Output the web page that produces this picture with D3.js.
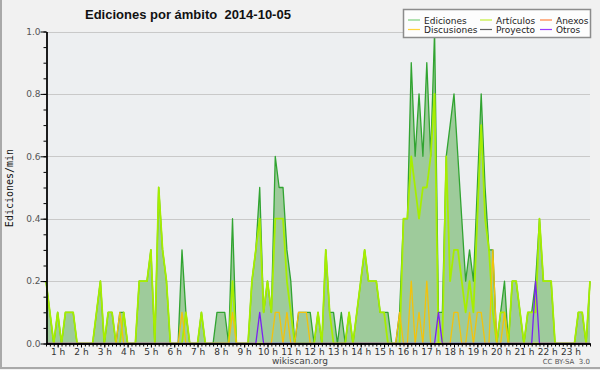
<!DOCTYPE html>
<html>
<head>
<meta charset="utf-8">
<script src="https://cdn.jsdelivr.net/npm/d3@7"></script>
<style>
  body { margin: 0; background: #f1f1f1; }
  svg { display: block; font-family: "DejaVu Sans", sans-serif; }
</style>
</head>
<body>
<svg id="chart" width="600" height="370"></svg>
<script>
// sample grid: one value every 10 minutes, minutes since midnight (00:30 .. 23:50)
const times = d3.range(30, 1431, 10);

// edits per minute, by namespace
const ediciones = [
  0.2,0.1,0,0.1,0,0.1,0.1,0.1,0,0,0,0,
  0,0.1,0.2,0,0.1,0.1,0,0.1,0.1,0,0,0,
  0.2,0.2,0.2,0.3,0,0.5,0.3,0.2,0,0,0,0.3,
  0.1,0,0,0,0.1,0,0,0,0.1,0.1,0.1,0,
  0.4,0,0,0,0,0.2,0.3,0.5,0.1,0.2,0.1,0.6,
  0.5,0.5,0.3,0.2,0,0.1,0.1,0.1,0.1,0,0.1,0,
  0.3,0.1,0.1,0,0.1,0,0.1,0,0.1,0.2,0.3,0.2,
  0.2,0.2,0.1,0.1,0.1,0,0,0.1,0.4,0.4,0.9,0.6,
  0.8,0.6,0.9,0.6,1.0,0.1,0.1,0.6,0.7,0.8,0.6,0.4,
  0.2,0.3,0.2,0.5,0.8,0.5,0.3,0.3,0,0.1,0.2,0,
  0.2,0.2,0.1,0,0.1,0.1,0.2,0.4,0.2,0.2,0.2,0,
  0,0,0,0,0,0.1,0.1,0,0.2
];
const articulos = [
  0.2,0.1,0,0.1,0,0.1,0.1,0.1,0,0,0,0,
  0,0.1,0.2,0,0.1,0.1,0,0,0.1,0,0,0,
  0.2,0.2,0.2,0.3,0,0.5,0.3,0.2,0,0,0,0,
  0.1,0,0,0,0.1,0,0,0,0,0,0,0,
  0.2,0,0,0,0,0.2,0.3,0.4,0.1,0.2,0.1,0.4,
  0.4,0.4,0.2,0.1,0,0,0,0,0,0,0.1,0,
  0.3,0.1,0,0,0,0,0.1,0,0.1,0.2,0.3,0.2,
  0.2,0.2,0.1,0.1,0,0,0,0,0.4,0.4,0.6,0.5,
  0.4,0.5,0.5,0.6,0.8,0,0,0.6,0.2,0.3,0.3,0.2,
  0.1,0.2,0.1,0.4,0.7,0.4,0.3,0.1,0,0.1,0.1,0,
  0.2,0.2,0.1,0,0.1,0.1,0.1,0.4,0.2,0.2,0.2,0,
  0,0,0,0,0,0.1,0.1,0,0.2
];
const discusiones = [
  0,0,0,0,0,0,0,0,0,0,0,0,
  0,0,0,0,0,0,0,0.1,0,0,0,0,
  0,0,0,0,0,0,0,0,0,0,0,0.1,
  0,0,0,0,0,0,0,0,0,0,0,0,
  0.1,0,0,0,0,0,0,0,0,0,0,0.1,
  0.1,0,0.1,0,0,0.1,0.1,0.1,0,0,0,0,
  0,0,0,0,0,0,0,0,0,0,0,0,
  0,0,0,0,0,0,0,0.1,0,0,0.2,0,
  0.1,0,0.2,0,0,0,0,0,0,0.1,0.1,0,
  0,0.1,0,0.1,0.1,0,0,0.3,0,0,0.1,0,
  0,0,0,0,0,0,0,0,0,0,0,0,
  0,0,0,0,0,0,0,0,0
];
const otros = [
  0,0,0,0,0,0,0,0,0,0,0,0,
  0,0,0,0,0,0,0,0,0,0,0,0,
  0,0,0,0,0,0,0,0,0,0,0,0,
  0,0,0,0,0,0,0,0,0,0,0,0,
  0,0,0,0,0,0,0,0.1,0,0,0,0,
  0,0,0,0,0,0,0,0,0,0,0,0,
  0,0,0,0,0,0,0,0,0,0,0,0,
  0,0,0,0,0,0,0,0,0,0,0,0,
  0,0,0,0,0,0.1,0,0,0,0,0,0,
  0,0,0,0,0,0,0,0,0,0,0,0,
  0,0,0,0,0,0,0.2,0,0,0,0,0,
  0,0,0,0,0,0,0,0,0
];
const anexos = times.map(() => 0);
const proyecto = times.map(() => 0);

const hourTicks = d3.range(1, 24);
const yMajorTicks = [0, 0.2, 0.4, 0.6, 0.8, 1.0];
const yMinorTicks = d3.range(0, 1.0001, 0.05);

const legendItems = [
  { label: 'Ediciones',   color: '#7fd07f', col: 0, row: 0 },
  { label: 'Artículos',   color: '#c4ee3a', col: 1, row: 0 },
  { label: 'Anexos',      color: '#ff8040', col: 2, row: 0 },
  { label: 'Discusiones', color: '#ffd43a', col: 0, row: 1 },
  { label: 'Proyecto',    color: '#606060', col: 1, row: 1 },
  { label: 'Otros',       color: '#9a3cff', col: 2, row: 1 }
];

const svg = d3.select('#chart');
const plotLeft = 46, plotRight = 590, plotTop = 31.5, plotBottom = 343.5;

const x = d3.scaleLinear().domain([30, 1430]).range([plotLeft, plotRight]);
const y = d3.scaleLinear().domain([0, 1]).range([plotBottom, plotTop]);

// backgrounds
svg.append('rect').attr('width', 600).attr('height', 370).attr('fill', '#f1f1f1');
svg.append('rect')
  .attr('x', plotLeft).attr('y', plotTop)
  .attr('width', plotRight - plotLeft).attr('height', plotBottom - plotTop)
  .attr('fill', '#edeff1');

// frame edges
svg.append('line').attr('x1', 1).attr('x2', 1).attr('y1', 0).attr('y2', 369)
  .attr('stroke', '#a9a9a9').attr('stroke-width', 2);
svg.append('line').attr('x1', 0).attr('x2', 600).attr('y1', 368).attr('y2', 368)
  .attr('stroke', '#a9a9a9').attr('stroke-width', 2);

// grid
svg.append('g').selectAll('line')
  .data(yMajorTicks.slice(1))
  .join('line')
  .attr('x1', plotLeft).attr('x2', plotRight)
  .attr('y1', d => Math.round(y(d)) + 0.5).attr('y2', d => Math.round(y(d)) + 0.5)
  .attr('stroke', '#c9c9c9');

// total edits area
const area = d3.area()
  .x((d, i) => x(times[i]))
  .y0(y(0))
  .y1(d => y(d));

svg.append('path')
  .datum(ediciones)
  .attr('d', area)
  .attr('fill', '#9ecb9b');

const line = d3.line()
  .x((d, i) => x(times[i]))
  .y(d => y(d));

const series = [
  { values: anexos,      color: '#ff8040', width: 1.2 },
  { values: proyecto,    color: '#606060', width: 1.2 },
  { values: ediciones,   color: '#31a431', width: 1.3 },
  { values: articulos,   color: '#a6ee00', width: 1.8 },
  { values: discusiones, color: '#f3c20c', width: 1.3 },
  { values: otros,       color: '#7a22f2', width: 1.3 }
];

series.forEach(s => {
  svg.append('path')
    .datum(s.values)
    .attr('d', line)
    .attr('fill', 'none')
    .attr('stroke', s.color)
    .attr('stroke-width', s.width)
    .attr('stroke-linejoin', 'round');
});

// y axis
const yAxisMinor = d3.axisLeft(y).tickValues(yMinorTicks).tickSize(3).tickFormat('').tickSizeOuter(0);
const yAxis = d3.axisLeft(y).tickValues(yMajorTicks).tickSize(6).tickSizeOuter(0)
  .tickFormat(d3.format('.1f'));

svg.append('g').attr('transform', `translate(${plotLeft + 0.5},0)`).call(yAxisMinor);
const gy = svg.append('g').attr('transform', `translate(${plotLeft + 0.5},0)`).call(yAxis);
gy.selectAll('text').attr('fill', '#555').attr('font-size', 9).attr('x', -6)
  .attr('font-family', '"DejaVu Sans", sans-serif');

// x axis
const xAxisMinor = d3.axisBottom(x).tickValues(times).tickSize(3).tickFormat('').tickSizeOuter(0);
const xAxis = d3.axisBottom(x).tickValues(hourTicks.map(h => h * 60)).tickSize(4).tickSizeOuter(0)
  .tickFormat(m => `${m / 60} h`);

svg.append('g').attr('transform', `translate(0,${plotBottom})`).call(xAxisMinor);
const gx = svg.append('g').attr('transform', `translate(0,${plotBottom})`).call(xAxis);
gx.selectAll('text').attr('fill', '#333').attr('font-size', 9).attr('y', 5)
  .attr('font-family', '"DejaVu Sans", sans-serif');

svg.selectAll('.domain').attr('stroke', '#000').attr('stroke-width', 1.3);
svg.selectAll('.tick line').attr('stroke', '#000');

// titles
svg.append('text')
  .attr('x', 85).attr('y', 18.5)
  .attr('font-family', '"Liberation Sans", Arial, sans-serif')
  .attr('font-size', 13).attr('font-weight', 'bold').attr('fill', '#111')
  .style('white-space', 'pre')
  .text('Ediciones por ámbito  2014-10-05');

svg.append('text')
  .attr('transform', 'translate(13,188) rotate(-90)')
  .attr('text-anchor', 'middle')
  .attr('font-family', '"DejaVu Sans Mono", monospace')
  .attr('font-size', 10).attr('fill', '#111')
  .text('Ediciones/min');

svg.append('text')
  .attr('x', 300).attr('y', 364).attr('text-anchor', 'middle')
  .attr('font-size', 9).attr('fill', '#444')
  .text('wikiscan.org');

svg.append('text')
  .attr('x', 590).attr('y', 364).attr('text-anchor', 'end')
  .attr('font-size', 7).attr('fill', '#555')
  .style('white-space', 'pre')
  .text('CC BY-SA  3.0');

// legend
const legend = svg.append('g').attr('class', 'legend');
legend.append('rect')
  .attr('x', 403.5).attr('y', 9.5).attr('width', 187).attr('height', 28)
  .attr('fill', '#fdfdfd').attr('stroke', '#8c8c8c').attr('stroke-width', 1.5);

const colX = [408, 480, 540];
const rowY = [20, 29.5];
legendItems.forEach(item => {
  legend.append('line')
    .attr('x1', colX[item.col]).attr('x2', colX[item.col] + 12)
    .attr('y1', rowY[item.row]).attr('y2', rowY[item.row])
    .attr('stroke', item.color).attr('stroke-width', 1.2);
  legend.append('text')
    .attr('x', colX[item.col] + 16).attr('y', rowY[item.row] + 3.5)
    .attr('font-size', 9).attr('fill', '#222')
    .text(item.label);
});
</script>
</body>
</html>
